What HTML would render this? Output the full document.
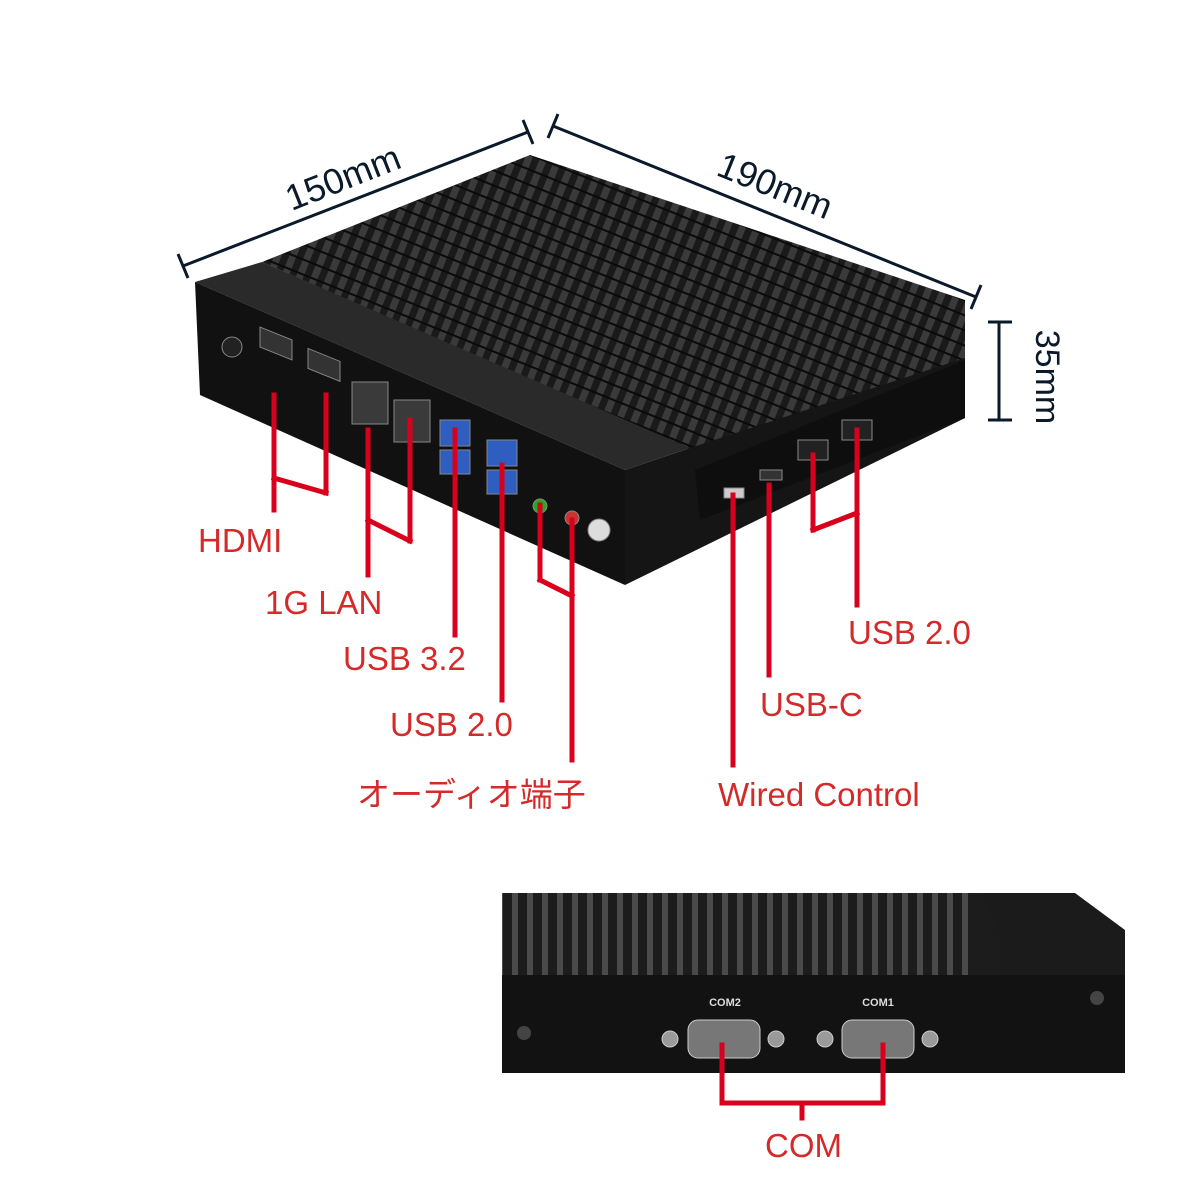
<!DOCTYPE html>
<html><head><meta charset="utf-8"><style>
html,body{margin:0;padding:0;background:#fff}
svg{display:block}
text{font-family:"Liberation Sans","Noto Sans CJK JP",sans-serif}
</style></head><body>
<svg width="1200" height="1200" viewBox="0 0 1200 1200" xmlns="http://www.w3.org/2000/svg">
<defs>
<pattern id="fins" width="14" height="14" patternUnits="userSpaceOnUse" patternTransform="rotate(22)">
<rect width="14" height="14" fill="#1a1a1a"/>
<rect x="0" y="0" width="7" height="14" fill="#3a3a3a"/>
<rect x="0" y="0" width="14" height="2" fill="#0a0a0a"/>
</pattern>
<pattern id="vfins" width="15" height="100" patternUnits="userSpaceOnUse">
<rect width="15" height="100" fill="#1c1c1c"/>
<rect x="2" width="6" height="100" fill="#4a4a4a"/>
</pattern>
</defs>
<g stroke="#0b1a2b" stroke-width="3" fill="none">
<line x1="183" y1="266" x2="528" y2="132"/>
<line x1="178" y1="254" x2="188" y2="278"/>
<line x1="523" y1="120" x2="533" y2="144"/>
<line x1="553" y1="126" x2="976" y2="297"/>
<line x1="558" y1="114" x2="548" y2="138"/>
<line x1="981" y1="285" x2="971" y2="309"/>
<line x1="999" y1="322" x2="999" y2="420"/>
<line x1="988" y1="322" x2="1012" y2="322"/>
<line x1="988" y1="420" x2="1012" y2="420"/>
</g>
<text x="343" y="190" font-size="36" fill="#0b1a2b" text-anchor="middle" transform="rotate(-21.5 343 178)">150mm</text>
<text x="775" y="198" font-size="36" fill="#0b1a2b" text-anchor="middle" transform="rotate(22 775 186)">190mm</text>
<text x="1048" y="377" font-size="34" fill="#0b1a2b" text-anchor="middle" transform="rotate(90 1048 377)" dy="12">35mm</text>
<polygon points="262,262 530,155 965,300 965,360 695,470 690,450" fill="url(#fins)"/>
<polygon points="625,470 690,448 965,358 965,418 625,585" fill="#151515"/>
<polygon points="195,282 262,262 690,448 625,470" fill="#2a2a2a"/>
<polygon points="195,282 625,470 625,585 200,395" fill="#111"/>
<polygon points="695,470 965,360 965,418 700,520" fill="#0e0e0e"/>
<g fill="#555" stroke="#888" stroke-width="1">
<circle cx="232" cy="347" r="10" fill="#222"/>
<rect x="260" y="330" width="32" height="20" transform="skewY(22) translate(0,-108)" fill="#333"/>
<rect x="308" y="350" width="32" height="20" transform="skewY(22) translate(0,-126)" fill="#333"/>
<rect x="352" y="382" width="36" height="42" fill="#3a3a3a"/>
<rect x="394" y="400" width="36" height="42" fill="#3a3a3a"/>
<rect x="440" y="420" width="30" height="26" fill="#2d5ec0"/>
<rect x="440" y="450" width="30" height="24" fill="#2d5ec0"/>
<rect x="487" y="440" width="30" height="26" fill="#2d5ec0"/>
<rect x="487" y="470" width="30" height="24" fill="#2d5ec0"/>
<circle cx="540" cy="506" r="7" fill="#2a2" />
<circle cx="572" cy="518" r="7" fill="#c33"/>
<circle cx="599" cy="530" r="11" fill="#ddd"/>
<rect x="724" y="488" width="20" height="10" fill="#ccc"/>
<rect x="760" y="470" width="22" height="10" fill="#333"/>
<rect x="798" y="440" width="30" height="20" fill="#222"/>
<rect x="842" y="420" width="30" height="20" fill="#222"/>
</g>
<rect x="502" y="893" width="480" height="90" fill="url(#vfins)"/>
<rect x="975" y="893" width="30" height="85" fill="#1c1c1c"/>
<polygon points="980,893 1075,893 1125,930 1125,975 1000,975 1000,935" fill="#1b1b1b"/>
<rect x="502" y="975" width="623" height="98" fill="#121212"/>
<circle cx="524" cy="1033" r="7" fill="#444"/>
<circle cx="1097" cy="998" r="7" fill="#444"/>
<text x="725" y="1006" font-size="11" fill="#ddd" text-anchor="middle" font-weight="bold">COM2</text>
<text x="878" y="1006" font-size="11" fill="#ddd" text-anchor="middle" font-weight="bold">COM1</text>
<g fill="#9a9a9a" stroke="#ccc">
<circle cx="670" cy="1039" r="8"/><circle cx="776" cy="1039" r="8"/>
<circle cx="825" cy="1039" r="8"/><circle cx="930" cy="1039" r="8"/>
<rect x="688" y="1020" width="72" height="38" rx="10" fill="#777"/>
<rect x="842" y="1020" width="72" height="38" rx="10" fill="#777"/>
</g>
<g stroke="#d8001c" stroke-width="5" fill="none" stroke-linecap="square">
<path d="M274 395V510M274 478L326 493M326 395V493"/>
<path d="M368 430V575M368 520L410 541M410 420V541"/>
<path d="M455 430V635"/>
<path d="M502 465V700"/>
<path d="M540 505V580M540 580L572 596M572 520V760"/>
<path d="M733 495V765"/>
<path d="M769 485V675"/>
<path d="M813 455V530M813 530L857 513M857 430V605"/>
<path d="M722 1045V1103H883V1045M802 1103V1118"/>
</g>
<g fill="#d42a2a" font-size="33">
<text x="198" y="552">HDMI</text>
<text x="265" y="614">1G LAN</text>
<text x="343" y="670">USB 3.2</text>
<text x="390" y="736">USB 2.0</text>
<text x="357" y="806">オーディオ端子</text>
<text x="718" y="806">Wired Control</text>
<text x="760" y="716">USB-C</text>
<text x="848" y="644">USB 2.0</text>
<text x="765" y="1157">COM</text>
</g>
</svg>
</body></html>
